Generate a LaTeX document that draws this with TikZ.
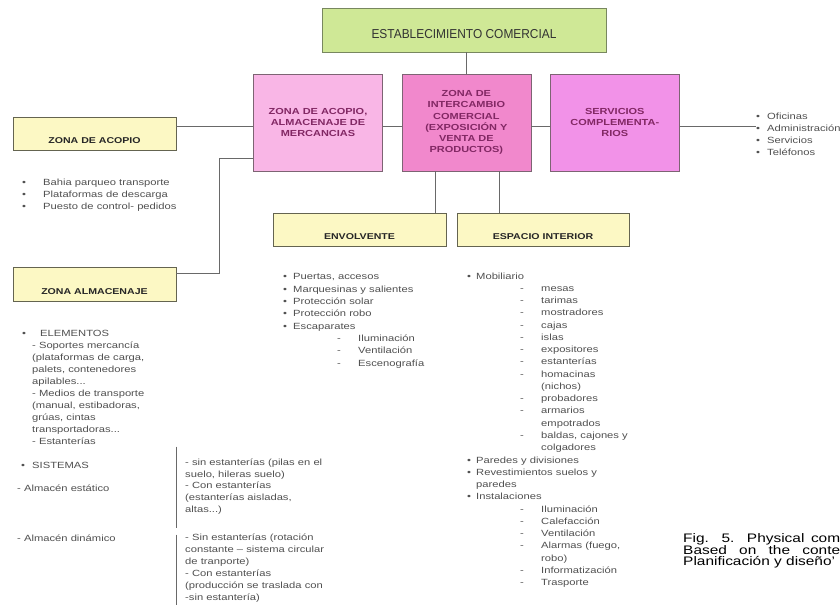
\documentclass[tikz,border=0pt]{standalone}
\usepackage{fontspec}
\setmainfont{Liberation Sans}[FakeStretch=1.25]
\newfontfamily\narrowfont{Liberation Sans}[FakeStretch=0.92]
\usetikzlibrary{positioning,calc}
\definecolor{pgreen}{RGB}{207,232,150}
\definecolor{pgreenline}{RGB}{120,135,95}
\definecolor{ppinkA}{RGB}{249,182,230}
\definecolor{ppinkB}{RGB}{241,136,204}
\definecolor{ppinkC}{RGB}{242,146,232}
\definecolor{ppinkline}{RGB}{125,100,115}
\definecolor{ppinktext}{RGB}{130,40,100}
\definecolor{pyellow}{RGB}{252,248,196}
\definecolor{pyellowline}{RGB}{100,100,80}
\definecolor{plink}{RGB}{105,105,105}
\definecolor{pgray}{RGB}{80,80,80}

\newcommand{\itm}[2][21bp]{\makebox[#1][l]{•}#2}
\newcommand{\subitm}[2][53bp]{\hspace*{#1}\makebox[21bp][l]{-}#2}

\tikzset{
    link/.style={draw=plink, line width=1bp},
    headbox/.style={draw=pgreenline, fill=pgreen, minimum width=284bp, minimum height=44bp, inner sep=0pt,
        text height=17bp, text depth=0pt, text=black!80, font=\narrowfont\fontsize{13}{15}\selectfont},
    zonebox/.style={draw=ppinkline, minimum width=129bp, minimum height=97bp, inner sep=0pt, align=center,
        text=ppinktext, font=\fontsize{8.8}{11.2}\selectfont\bfseries},
    subbox/.style={draw=pyellowline, fill=pyellow, minimum width=163bp, minimum height=33bp, inner sep=0pt,
        text height=20bp, text depth=0pt, text=black!85, font=\fontsize{8.5}{10}\selectfont\bfseries},
    listtext/.style={anchor=north west, inner sep=0pt, align=left, text=pgray, font=\fontsize{9}{12.2}\selectfont},
}

\begin{document}
\begin{tikzpicture}[x=1bp,y=-1bp]
    \path[use as bounding box, fill=white] (0,0) rectangle (840,605);

    \node[headbox] (shop) at (464,30) {ESTABLECIMIENTO COMERCIAL};

    \node[zonebox, fill=ppinkA] (storeZone) at (318,122.5) {ZONA DE ACOPIO,\\ALMACENAJE DE\\MERCANCIAS};
    \node[zonebox, fill=ppinkB, right=19bp of storeZone] (tradeZone) {ZONA DE\\INTERCAMBIO\\COMERCIAL\\(EXPOSICIÓN Y\\VENTA DE\\PRODUCTOS)};
    \node[zonebox, fill=ppinkC, right=19bp of tradeZone] (serviceZone) {SERVICIOS\\COMPLEMENTA-\\RIOS};

    \node[subbox] (pickZone) at (94.5,133.5) {ZONA DE ACOPIO};
    \node[subbox, minimum height=34bp] (stockZone) at (94.5,284) {ZONA ALMACENAJE};
    \node[subbox, minimum width=173bp] (shellBox) at (359.5,229.5) {ENVOLVENTE};
    \node[subbox, minimum width=172bp] (insideBox) at (543,229.5) {ESPACIO INTERIOR};

    \draw[link] (tradeZone.north) -- (tradeZone.north |- shop.south);
    \draw[link] ([yshift=-4.5bp]storeZone.west) -- ([yshift=-4.5bp]storeZone.west -| pickZone.east);
    \draw[link] ([yshift=-36.5bp]storeZone.west) -- ++(-34,0) |- ([yshift=11bp]stockZone.east);
    \draw[link] ([yshift=-4.5bp]storeZone.east) -- ([yshift=-4.5bp]tradeZone.west);
    \draw[link] ([yshift=-4.5bp]tradeZone.east) -- ([yshift=-4.5bp]serviceZone.west);
    \draw[link] ([xshift=-31bp]tradeZone.south) -- ([xshift=-31bp]tradeZone.south |- shellBox.north);
    \draw[link] ([xshift=33bp]tradeZone.south) -- ([xshift=33bp]tradeZone.south |- insideBox.north);

    \node[listtext, font=\fontsize{9}{12.3}\selectfont] (serviceList) at (756,112.5) {\itm[11bp]{Oficinas}\\\itm[11bp]{Administración}\\\itm[11bp]{Servicios}\\\itm[11bp]{Teléfonos}};
    \draw[link] ([yshift=-4.5bp]serviceZone.east) -- ([yshift=-4.5bp]serviceZone.east -| serviceList.west);

    \node[listtext, font=\fontsize{9}{12}\selectfont] (pickList) at (22,178.6) {\itm{Bahia parqueo transporte}\\\itm{Plataformas de descarga}\\\itm{Puesto de control- pedidos}};

    \node[listtext, font=\fontsize{9}{12}\selectfont] (stockList) at (22,330) {\itm[18bp]{ELEMENTOS}\\
        \hspace*{10bp}- Soportes mercancía\\\hspace*{10bp}(plataformas de carga,\\\hspace*{10bp}palets, contenedores\\\hspace*{10bp}apilables...\\
        \hspace*{10bp}- Medios de transporte\\\hspace*{10bp}(manual, estibadoras,\\\hspace*{10bp}grúas, cintas\\\hspace*{10bp}transportadoras...\\
        \hspace*{10bp}- Estanterías};

    \node[listtext] (systemItem) at (21,462.5) {\itm[11bp]{SISTEMAS}};
    \node[listtext] (staticItem) at (17,484.5) {- Almacén estático};
    \node[listtext] (dynamicItem) at (17,534.5) {- Almacén dinámico};

    \node[listtext, font=\fontsize{9}{11.8}\selectfont] (staticText) at (185,458.5) {- sin estanterías (pilas en el\\suelo, hileras suelo)\\- Con estanterías\\(estanterías aisladas,\\altas...)};
    \node[listtext, font=\fontsize{9}{12}\selectfont] (dynamicText) at (185,533.5) {- Sin estanterías (rotación\\constante – sistema circular\\de tranporte)\\- Con estanterías\\(producción se traslada con\\-sin estantería)};
    \draw[link] ([shift={(-9bp,12bp)}]staticText.north west) -- ([shift={(-9bp,-14bp)}]staticText.south west);
    \draw[link] ([shift={(-9bp,-1bp)}]dynamicText.north west) -- ([shift={(-9bp,-10bp)}]dynamicText.south west);

    \node[listtext, font=\fontsize{9}{12.4}\selectfont] (shellList) at (283,273.5) {\itm[10bp]{Puertas, accesos}\\\itm[10bp]{Marquesinas y salientes}\\
        \itm[10bp]{Protección solar}\\\itm[10bp]{Protección robo}\\\itm[10bp]{Escaparates}\\
        \subitm[54bp]{Iluminación}\\\subitm[54bp]{Ventilación}\\\subitm[54bp]{Escenografía}};

    \node[listtext, font=\fontsize{9}{12.3}\selectfont] (insideList) at (467,272.5) {\itm[9bp]{Mobiliario}\\
        \subitm{mesas}\\\subitm{tarimas}\\\subitm{mostradores}\\\subitm{cajas}\\\subitm{islas}\\\subitm{expositores}\\
        \subitm{estanterías}\\\subitm{homacinas}\\\hspace*{74bp}(nichos)\\\subitm{probadores}\\\subitm{armarios}\\
        \hspace*{74bp}empotrados\\\subitm{baldas, cajones y}\\\hspace*{74bp}colgadores\\
        \itm[9bp]{Paredes y divisiones}\\\itm[9bp]{Revestimientos suelos y}\\\hspace*{9bp}paredes\\\itm[9bp]{Instalaciones}\\
        \subitm{Iluminación}\\\subitm{Calefacción}\\\subitm{Ventilación}\\\subitm{Alarmas (fuego,}\\\hspace*{74bp}robo)\\
        \subitm{Informatización}\\\subitm{Trasporte}};

    \node[anchor=north west, inner sep=0pt, align=left, font=\fontsize{12.4}{11.6}\selectfont] (figNote) at (683,533.5)
        {\makebox[157bp][s]{Fig. 5. Physical com}\\\makebox[157bp][s]{Based on the conte}\\Planificación y diseño'};
\end{tikzpicture}
\end{document}
